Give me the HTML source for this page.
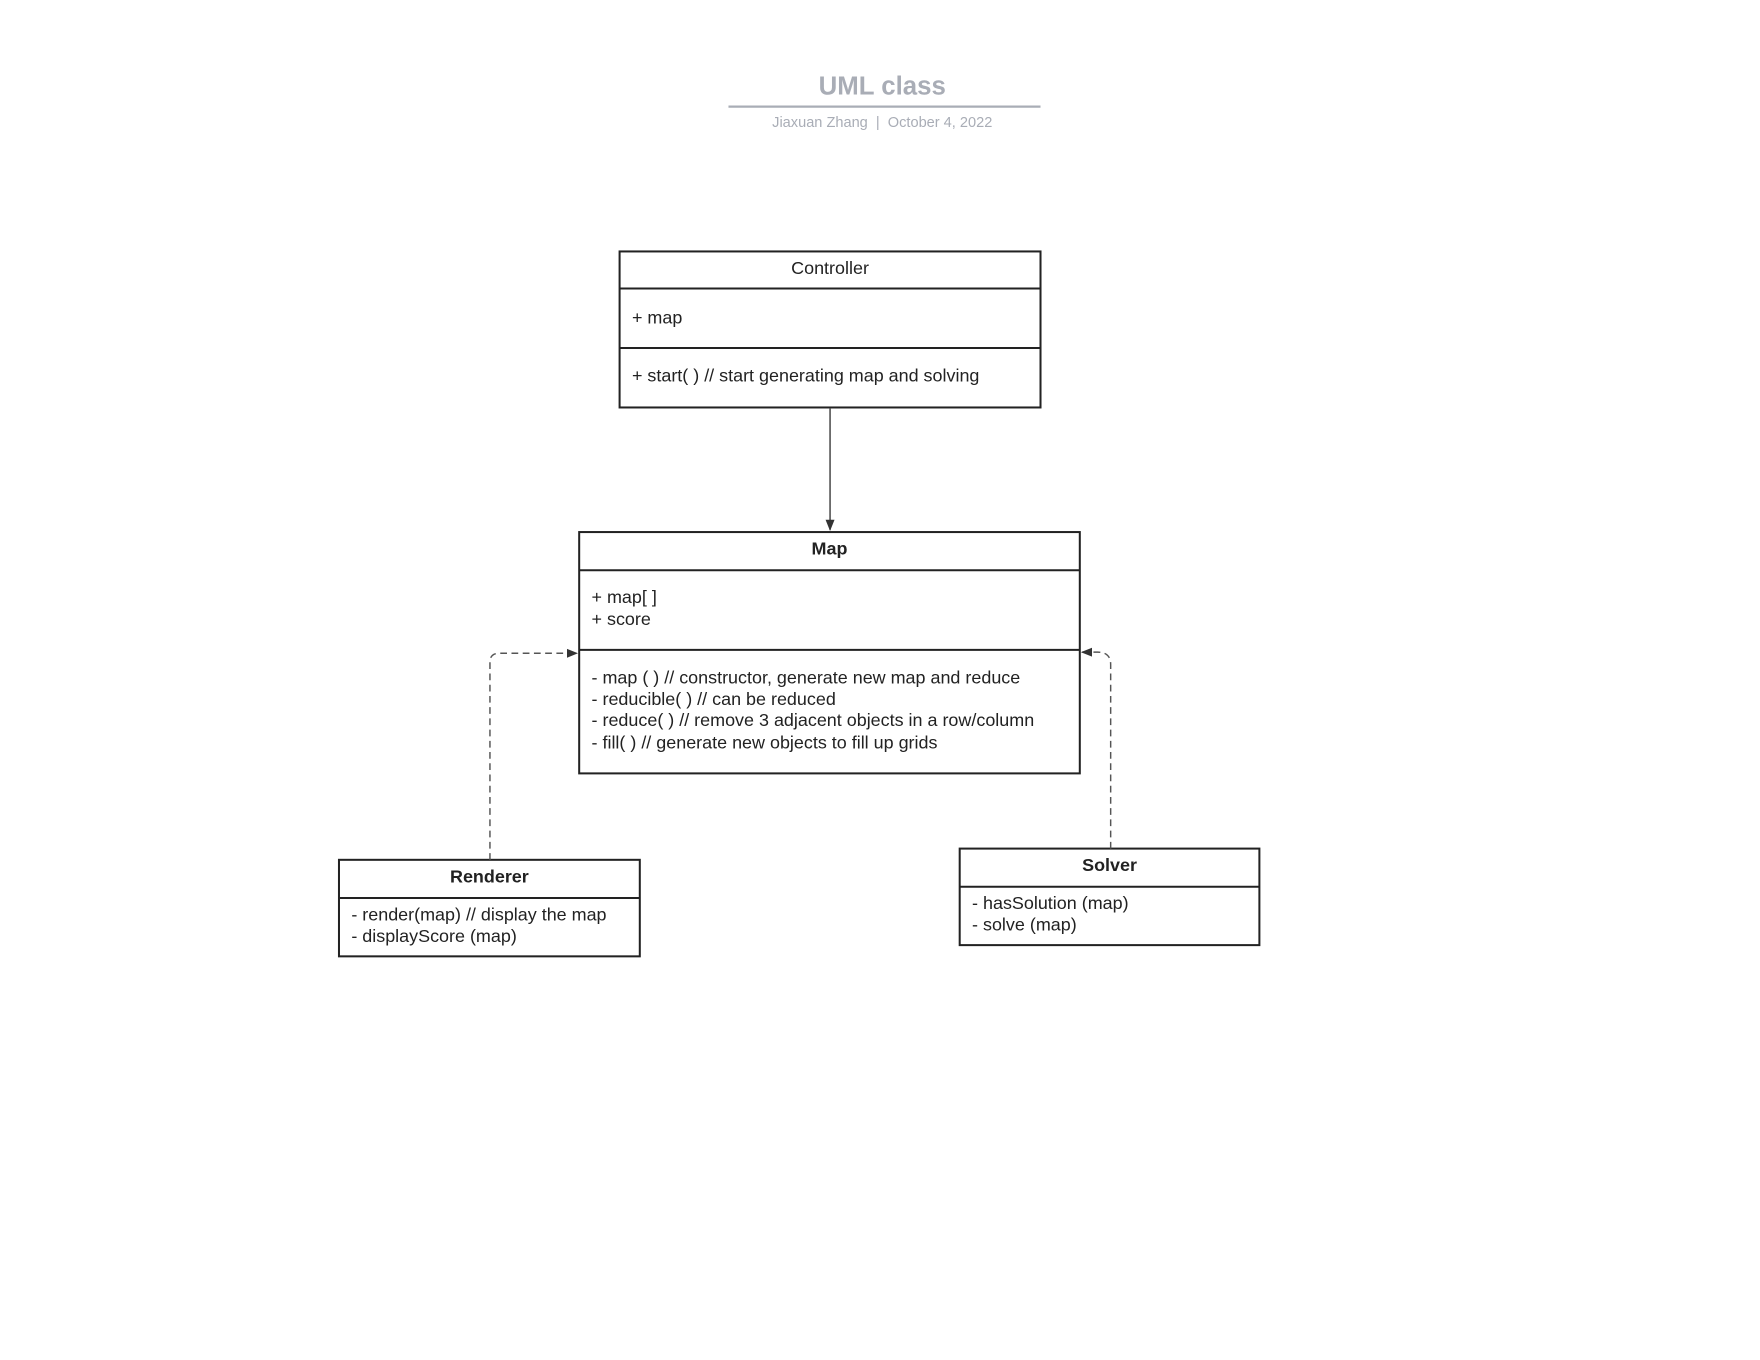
<!DOCTYPE html>
<html><head><meta charset="utf-8"><style>
html,body{margin:0;padding:0;background:#fff;width:1760px;height:1360px;overflow:hidden}
svg{display:block}
text{font-family:"Liberation Sans",Arial,sans-serif;fill:#222}
</style></head><body>
<svg width="1760" height="1360" viewBox="0 0 1568 1211.6" xmlns="http://www.w3.org/2000/svg">
<defs>
<marker id="ar" markerWidth="10" markerHeight="10" refX="9" refY="5" orient="auto" markerUnits="userSpaceOnUse">
<path d="M0,1 L10,5 L0,9 Z" fill="#333"/>
</marker>
</defs>
<text x="786" y="84" text-anchor="middle" font-size="23" font-weight="bold" style="fill:#a9adb6">UML class</text>
<line x1="649" y1="95" x2="927" y2="95" stroke="#a9adb6" stroke-width="2"/>
<text x="786" y="113" text-anchor="middle" font-size="13" style="fill:#a9adb6" xml:space="preserve">Jiaxuan Zhang  |  October 4, 2022</text>

<g stroke="#222" stroke-width="1.8" fill="#fff">
<rect x="552" y="224" width="375" height="139"/>
<line x1="552" y1="257" x2="927" y2="257"/>
<line x1="552" y1="310" x2="927" y2="310"/>
<rect x="516" y="474" width="446" height="215"/>
<line x1="516" y1="508" x2="962" y2="508"/>
<line x1="516" y1="579" x2="962" y2="579"/>
<rect x="302" y="766" width="268" height="86"/>
<line x1="302" y1="800" x2="570" y2="800"/>
<rect x="855" y="756" width="267" height="86"/>
<line x1="855" y1="790" x2="1122" y2="790"/>
</g>
<line x1="739.5" y1="364" x2="739.5" y2="472" stroke="#333" stroke-width="1.2" marker-end="url(#ar)"/>
<path d="M436.5,766 L436.5,590 Q436.5,582 445,582 L514,582" fill="none" stroke="#555" stroke-width="1.3" stroke-dasharray="6,4" marker-end="url(#ar)"/>
<path d="M989.5,756 L989.5,592 Q989.5,581 978,581 L964,581" fill="none" stroke="#555" stroke-width="1.3" stroke-dasharray="6,4" marker-end="url(#ar)"/>

<g font-size="16">
<text x="739.5" y="244" text-anchor="middle">Controller</text>
<text x="563" y="288">+ map</text>
<text x="563" y="340">+ start( ) // start generating map and solving</text>
<text x="739" y="494" text-anchor="middle" font-weight="bold">Map</text>
<text x="527" y="537">+ map[ ]</text>
<text x="527" y="557">+ score</text>
<text x="527" y="609">- map ( ) // constructor, generate new map and reduce</text>
<text x="527" y="628">- reducible( ) // can be reduced</text>
<text x="527" y="647">- reduce( ) // remove 3 adjacent objects in a row/column</text>
<text x="527" y="667">- fill( ) // generate new objects to fill up grids</text>
<text x="436" y="786" text-anchor="middle" font-weight="bold">Renderer</text>
<text x="313" y="820">- render(map) // display the map</text>
<text x="313" y="839">- displayScore (map)</text>
<text x="988.5" y="776" text-anchor="middle" font-weight="bold">Solver</text>
<text x="866" y="810">- hasSolution (map)</text>
<text x="866" y="829">- solve (map)</text>
</g>
</svg>
</body></html>
